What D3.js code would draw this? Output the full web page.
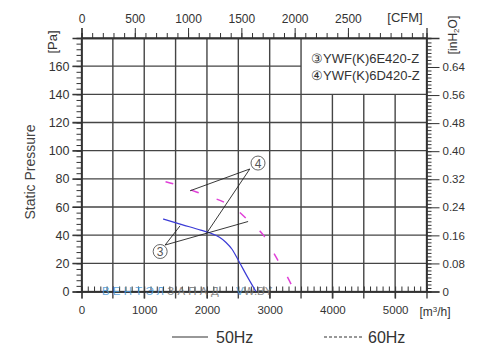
<!DOCTYPE html>
<html>
<head>
<meta charset="utf-8">
<title>Fan curve</title>
<style>
  html, body { margin: 0; background: #fff; }
  svg { display: block; font-family: "Liberation Sans", Arial, sans-serif; }
</style>
<script src="https://cdn.jsdelivr.net/npm/d3@7/dist/d3.min.js"></script>
</head>
<body>
<svg id="svg" width="498" height="355"></svg>
<script>
// curve ③ 50Hz (m3/h, Pa)
const flow50 = [1300, 1600, 1900, 2050, 2200, 2300, 2400, 2500, 2650, 2780];
const pres50 = [51.5, 47.5, 43.6, 41.5, 38.5, 35, 30, 22.2, 10, 0];
// curve ④ 60Hz
const flow60 = [1340, 1500, 1750, 2000, 2300, 2500, 2700, 2900, 3100, 3250, 3400];
const pres60 = [78, 76, 72, 68, 62.8, 57, 48.5, 40, 24.5, 13, 0];

const flowTicks = [0, 1000, 2000, 3000, 4000, 5000];
const cfmTicks = [0, 500, 1000, 1500, 2000, 2500];
const paTicks = [0, 20, 40, 60, 80, 100, 120, 140, 160];
const inTicks = [0, 0.08, 0.16, 0.24, 0.32, 0.40, 0.48, 0.56, 0.64];
const models = ['③YWF(K)6E420-Z', '④YWF(K)6D420-Z'];

// leader lines: [label, anchor flow, anchor Pa, target flow, target Pa]
const leaders = [
  ['4', 2683, 87, 1730, 71.5],
  ['4', 2683, 87, 1995, 41.4],
  ['3', 1333, 33, 2656, 49.7],
  ['3', 1333, 33, 1571, 46.6]
];
const bubbles = [['3', 1254, 28.4], ['4', 2814, 91.2]];

const svg = d3.select('#svg');
const x = d3.scaleLinear().domain([0, 5500]).range([81.5, 426.5]);
const y = d3.scaleLinear().domain([0, 180]).range([291.5, 38]);
const xc = d3.scaleLinear().domain([0, 5500 / 1.699]).range([81.5, 426.5]);
const yi = d3.scaleLinear().domain([0, 180 / 249.089]).range([291.5, 38]);
const GRID = '#454545';
const TXT = '#333';

// grid (legend box keeps the top right corner clear)
const grid = svg.append('g');
d3.range(500, 5500, 500).forEach(v => {
  grid.append('line')
    .attr('x1', x(v)).attr('x2', x(v))
    .attr('y1', v > 3500 ? y(140) : y(180)).attr('y2', y(0) + 7)
    .attr('stroke', GRID).attr('stroke-width', 1.4);
});
d3.range(20, 180, 20).forEach(v => {
  grid.append('line')
    .attr('x1', x(0) - 9).attr('x2', v >= 160 ? x(3500) : x(5500))
    .attr('y1', y(v)).attr('y2', y(v))
    .attr('stroke', GRID).attr('stroke-width', 1.4);
});

// frame
svg.append('rect')
  .attr('x', x(0)).attr('y', y(180))
  .attr('width', x(5500) - x(0)).attr('height', y(0) - y(180))
  .attr('fill', 'none').attr('stroke', '#333').attr('stroke-width', 1.3);

function styleAxis(sel, size) {
  sel.selectAll('.domain').attr('stroke', '#333').attr('stroke-width', 1.3);
  sel.selectAll('line').attr('stroke', '#333');
  sel.selectAll('text').attr('font-size', size).attr('fill', TXT).attr('font-family', null);
}

// bottom axis
const axB = svg.append('g').attr('transform', `translate(0,${y(0)})`);
axB.call(d3.axisTop(x).tickValues(d3.range(0, 5501, 100)).tickSize(5).tickFormat(''));
axB.append('g').call(d3.axisBottom(x).tickValues(flowTicks).tickSize(7).tickPadding(7).tickFormat(d3.format('d')));
styleAxis(axB, 11.5);

// top axis
const axT = svg.append('g').attr('transform', `translate(0,${y(180)})`);
axT.call(d3.axisTop(xc).tickValues(d3.range(0, 3201, 100)).tickSize(5).tickFormat(''));
axT.append('g').call(d3.axisTop(xc).tickValues(cfmTicks).tickSize(10).tickPadding(5).tickFormat(d3.format('d')));
styleAxis(axT, 12);

// left axis
const axL = svg.append('g').attr('transform', `translate(${x(0)},0)`);
axL.call(d3.axisLeft(y).tickValues(d3.range(0, 181, 4)).tickSize(5).tickFormat(''));
axL.append('g').call(d3.axisLeft(y).tickValues(paTicks).tickSize(9).tickPadding(3).tickFormat(d3.format('d')));
styleAxis(axL, 12.5);

// right axis
const axR = svg.append('g').attr('transform', `translate(${x(5500)},0)`);
axR.call(d3.axisRight(yi).tickValues(d3.range(0, 0.72, 0.01)).tickSize(5).tickFormat(''));
axR.append('g').call(d3.axisRight(yi).tickValues(inTicks).tickSize(13).tickPadding(3)
  .tickFormat(d => d === 0 ? '0' : d3.format('.2f')(d)));
styleAxis(axR, 11.5);

// unit labels
svg.append('text').attr('x', 405).attr('y', 22).attr('text-anchor', 'middle')
  .attr('font-size', 13).attr('fill', TXT).text('[CFM]');
svg.append('text').attr('x', 435).attr('y', 316).attr('text-anchor', 'middle')
  .attr('font-size', 12).attr('fill', TXT)
  .html('[m<tspan font-size="8" dy="-4">3</tspan><tspan dy="4">/h]</tspan>');
svg.append('text').attr('transform', 'translate(57,42) rotate(-90)').attr('text-anchor', 'middle')
  .attr('font-size', 13).attr('fill', TXT).text('[Pa]');
svg.append('text').attr('transform', 'translate(457,35) rotate(-90)').attr('text-anchor', 'middle')
  .attr('font-size', 12).attr('fill', TXT)
  .html('[inH<tspan font-size="8" dy="2">2</tspan><tspan dy="-2">O]</tspan>');
svg.append('text').attr('transform', 'translate(35,172) rotate(-90)').attr('text-anchor', 'middle')
  .attr('font-size', 14).attr('fill', '#444').text('Static Pressure');

// model legend
svg.selectAll('.model').data(models).join('text')
  .attr('x', 311).attr('y', (d, i) => 63 + i * 17)
  .attr('font-size', 13).attr('fill', TXT).text(d => d);

// watermark
const wm = svg.append('text').attr('x', 102).attr('y', 295).attr('font-size', 11.5)
  .attr('letter-spacing', 3.2).attr('opacity', 0.85);
wm.append('tspan').attr('fill', '#4a98d8').text('ВЕНТЭЛ');
wm.append('tspan').attr('fill', '#777').text('ЗАПАД');
const wm2 = svg.append('text').attr('x', 236).attr('y', 295).attr('font-size', 11.5).attr('opacity', 0.85);
wm2.append('tspan').attr('fill', '#4a98d8').text('V');
wm2.append('tspan').attr('fill', '#777').text('W.BY');

// curves
const line = d3.line().x(d => x(d[0])).y(d => y(d[1])).curve(d3.curveMonotoneX);
svg.append('path').datum(d3.zip(flow50, pres50)).attr('d', line)
  .attr('fill', 'none').attr('stroke', '#3b3bd6').attr('stroke-width', 1.2);
svg.append('path').datum(d3.zip(flow60, pres60)).attr('d', line)
  .attr('fill', 'none').attr('stroke', '#e040d8').attr('stroke-width', 1.5)
  .attr('stroke-dasharray', '8,19');

// leaders and bubbles
svg.selectAll('.leader').data(leaders).join('line')
  .attr('x1', d => x(d[1])).attr('y1', d => y(d[2]))
  .attr('x2', d => x(d[3])).attr('y2', d => y(d[4]))
  .attr('stroke', '#222').attr('stroke-width', 0.9);
const bub = svg.selectAll('.bubble').data(bubbles).join('g')
  .attr('transform', d => `translate(${x(d[1])},${y(d[2])})`);
bub.append('circle').attr('r', 7).attr('fill', '#fff').attr('stroke', '#555').attr('stroke-width', 0.9);
bub.append('text').attr('y', 4.5).attr('text-anchor', 'middle').attr('font-size', 12)
  .attr('fill', '#555').text(d => d[0]);

// frequency legend
svg.append('line').attr('x1', 172).attr('x2', 208).attr('y1', 337).attr('y2', 337)
  .attr('stroke', '#333').attr('stroke-width', 1.2);
svg.append('text').attr('x', 216).attr('y', 343).attr('font-size', 16).attr('fill', TXT).text('50Hz');
svg.append('line').attr('x1', 324).attr('x2', 363).attr('y1', 337).attr('y2', 337)
  .attr('stroke', '#333').attr('stroke-width', 1.2).attr('stroke-dasharray', '3,2');
svg.append('text').attr('x', 368).attr('y', 343).attr('font-size', 16).attr('fill', TXT).text('60Hz');
</script>
</body>
</html>
